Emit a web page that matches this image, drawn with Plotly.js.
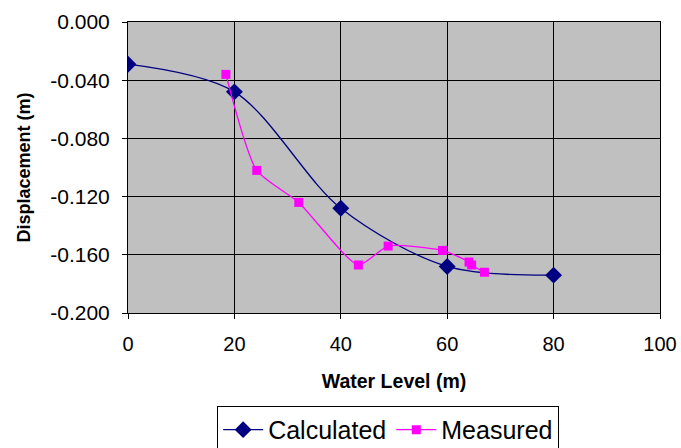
<!DOCTYPE html>
<html>
<head>
<meta charset="utf-8">
<script src="https://cdn.plot.ly/plotly-3.0.1.min.js"></script>
<style>html,body{margin:0;padding:0;background:#fff;}#chart{width:681px;height:448px;}</style>
</head>
<body>
<div id="chart"></div>
<script>
const calcX = [0, 20, 40, 60, 80];
const calcY = [-0.029, -0.048, -0.128, -0.168, -0.174];
const measX = [18.4, 24.2, 32.1, 43.3, 48.9, 59.1, 64.1, 64.6, 67.0];
const measY = [-0.036, -0.102, -0.124, -0.167, -0.154, -0.157, -0.165, -0.167, -0.172];
const xTicks = [0, 20, 40, 60, 80, 100];
const yTicks = [0, -0.04, -0.08, -0.12, -0.16, -0.2];
const yTickText = ['0.000', '-0.040', '-0.080', '-0.120', '-0.160', '-0.200'];

const traces = [
  {x: calcX, y: calcY, name: 'Calculated', type: 'scatter', mode: 'lines+markers',
   line: {color: '#000080', width: 1.3, shape: 'spline', smoothing: 0.9},
   marker: {symbol: 'diamond', size: 13, color: '#000080'}},
  {x: measX, y: measY, name: 'Measured', type: 'scatter', mode: 'lines+markers',
   line: {color: '#FF00FF', width: 1.3, shape: 'spline', smoothing: 0.6},
   marker: {symbol: 'square', size: 9, color: '#FF00FF'}}
];

const layout = {
  width: 681, height: 448,
  margin: {l: 128, r: 21, t: 22, b: 135},
  paper_bgcolor: '#ffffff',
  plot_bgcolor: '#C0C0C0',
  font: {family: 'Liberation Sans, Arial, sans-serif', color: '#000'},
  showlegend: true,
  legend: {orientation: 'h', x: 0.489, xanchor: 'center', xref: 'paper',
           y: 0.094, yanchor: 'top', yref: 'container',
           bordercolor: '#000', borderwidth: 1, bgcolor: '#fff',
           font: {size: 25, family: 'Liberation Sans, Arial, sans-serif'}, itemwidth: 40},
  xaxis: {range: [0, 100], tickvals: xTicks, ticktext: xTicks.map(String),
          showgrid: true, gridcolor: '#000', gridwidth: 1,
          showline: true, linecolor: '#000', linewidth: 1, mirror: true,
          ticks: 'outside', ticklen: 5, tickcolor: '#000', ticklabelstandoff: 8,
          zeroline: false, tickfont: {size: 20}, automargin: false,
          title: {text: '<b>Water Level (m)</b>', font: {size: 19.5}, standoff: 20}},
  yaxis: {range: [-0.2, 0], tickvals: yTicks, ticktext: yTickText,
          showgrid: true, gridcolor: '#000', gridwidth: 1,
          showline: true, linecolor: '#000', linewidth: 1, mirror: true,
          ticks: 'outside', ticklen: 5, tickcolor: '#000', ticklabelstandoff: 8,
          zeroline: false, tickfont: {size: 21}, automargin: false,
          title: {text: '<b>Displacement (m)</b>', font: {size: 18}, standoff: 14}}
};

Plotly.newPlot('chart', traces, layout, {displayModeBar: false, staticPlot: true});
</script>
</body>
</html>
